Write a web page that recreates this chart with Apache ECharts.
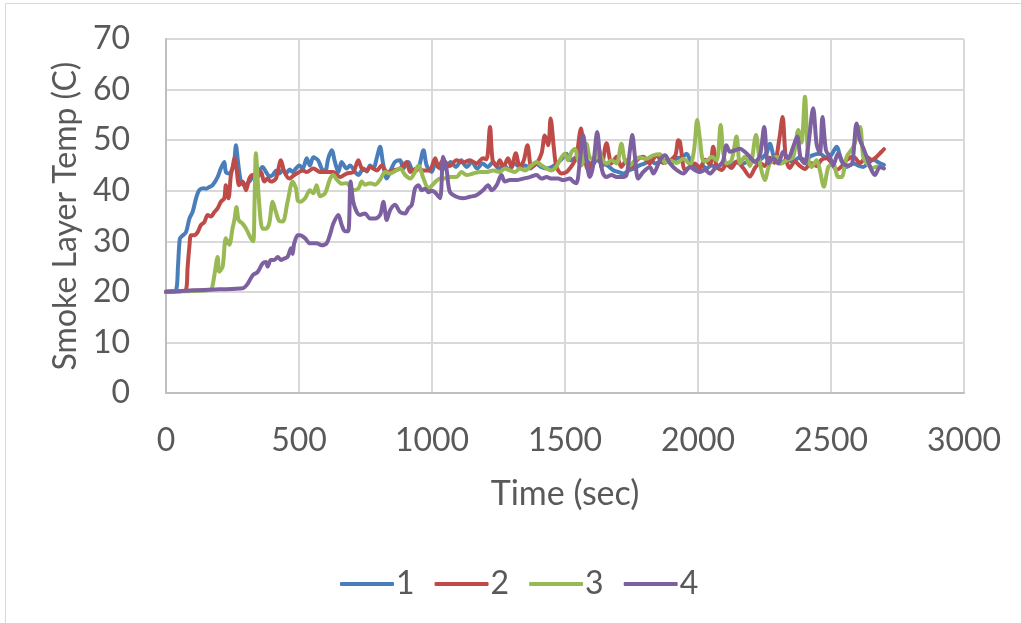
<!DOCTYPE html>
<html><head><meta charset="utf-8">
<script src="https://cdn.jsdelivr.net/npm/echarts@6/dist/echarts.min.js"></script>
<style>html,body{margin:0;padding:0;background:#fff}#c{width:1021px;height:623px}</style>
</head><body><div id="c"></div>
<script>
const seriesNames = ['1','2','3','4'];
const xTicks = [0,500,1000,1500,2000,2500,3000];
const yTicks = [0,10,20,30,40,50,60,70];
const s1 = [[0,20],[20,20.1],[38,20.3],[45,25],[52,30.5],[60,31],[75,31.8],[88,34.5],[100,35.8],[113,38.5],[125,40.1],[140,40.5],[150,40.4],[165,40.8],[175,41.1],[194,42.7],[206,44.4],[219,45.7],[225,43.7],[238,43.4],[250,44.4],[257,46],[263,49],[270,46],[276,43.5],[282,41.8],[294,41.1],[313,41.8],[331,43.1],[344,43.4],[363,44.7],[376,43.7],[390,42.8],[401,43.1],[415,44],[426,43.4],[440,44.2],[451,43.4],[465,44.2],[476,43.7],[490,44.5],[501,45],[514,44.4],[529,46.4],[541,45],[554,46.6],[572,46],[585,44.4],[598,43.7],[610,46.4],[623,48],[635,45.7],[648,43.7],[660,45.7],[679,44.4],[692,45],[711,43.7],[723,43.1],[742,44.4],[755,43.8],[767,45],[780,44.4],[792,46.4],[805,48.7],[815,45.7],[830,42.4],[848,44.4],[861,45.7],[880,46],[892,44.4],[911,45.7],[930,43.7],[949,44.4],[968,48],[980,45],[999,43.7],[1012,45.3],[1030,44.4],[1050,44.4],[1070,45.7],[1090,44.7],[1110,46],[1130,44.7],[1150,45.7],[1170,44.4],[1190,45.4],[1210,44.7],[1230,45.7],[1250,44.4],[1270,45],[1290,44.1],[1310,45.4],[1330,44.7],[1350,45],[1370,44.4],[1390,45.4],[1410,44.7],[1430,44.4],[1450,44.7],[1470,45.4],[1490,46.4],[1505,47.3],[1520,46],[1540,46.5],[1560,45.4],[1580,46],[1600,45],[1620,46],[1640,45.4],[1660,45],[1680,44.1],[1700,43.7],[1720,43.4],[1740,44],[1760,44.4],[1780,45],[1800,45.4],[1820,46],[1840,45.4],[1860,45.7],[1880,46],[1900,45.4],[1920,46.4],[1940,46.6],[1957,47.3],[1975,45.5],[1995,44.4],[2015,45],[2032,44.4],[2050,45],[2070,44.7],[2095,45.4],[2120,45],[2140,45.6],[2170,45.4],[2195,46],[2215,45.8],[2240,46.4],[2258,47.5],[2270,49.3],[2289,46.1],[2310,45.4],[2330,46],[2358,45.8],[2380,46.5],[2400,46.1],[2430,47],[2458,47.3],[2480,46.6],[2500,47],[2521,48.7],[2540,45.8],[2560,44.7],[2585,45.4],[2605,44.9],[2621,44.7],[2640,45.5],[2660,46.1],[2684,45.4],[2699,45.1]];
const s2 = [[0,20],[40,20.1],[75,20.4],[81,24.7],[88,29],[94,31.2],[106,31.2],[119,31.8],[131,33.2],[144,33.8],[157,35.2],[169,34.9],[182,35.8],[194,36.5],[206,37.8],[219,38.5],[225,41.1],[235,38.5],[244,43.1],[252,45],[257,46.4],[265,44.4],[275,41.1],[288,41.8],[301,40.1],[313,42.4],[326,43.1],[340,42.5],[357,43.7],[369,41.8],[382,42.4],[394,41.8],[413,42.4],[432,46],[445,43.7],[464,42.4],[482,43.1],[501,43.7],[514,44],[529,43.7],[554,44.4],[579,43.7],[604,43.7],[629,43.7],[654,42.7],[679,43.4],[704,43.7],[723,46],[736,44.4],[755,44],[767,44.7],[792,44],[811,45],[830,43.7],[855,44],[880,44.4],[905,45.7],[918,43.7],[943,44.4],[968,44],[990,44],[1012,46.4],[1024,44.7],[1042,46],[1067,44.9],[1092,46],[1117,45.6],[1142,46],[1167,45.4],[1192,46.4],[1205,46.2],[1218,52.6],[1228,46],[1243,44.9],[1255,46],[1268,44.7],[1286,46.4],[1299,44.7],[1315,47.4],[1330,44.7],[1345,46],[1359,49],[1374,44.7],[1393,45.4],[1412,47.4],[1424,50.9],[1437,49],[1446,54.3],[1458,48.5],[1468,44.7],[1487,43.4],[1506,43.7],[1518,44.4],[1531,45.4],[1543,46.7],[1560,52.3],[1571,47.6],[1587,44.1],[1606,46],[1625,48],[1637,44.7],[1656,49.4],[1675,45.4],[1694,46.7],[1712,44.7],[1731,46],[1750,44.7],[1769,46],[1794,46.7],[1819,45.4],[1844,47],[1870,45.5],[1895,46],[1915,47],[1926,50],[1932,49.7],[1951,44.1],[1970,44.7],[1988,45.4],[2007,44.4],[2026,46.1],[2045,45.2],[2057,48.7],[2070,44.8],[2089,44.1],[2107,45.2],[2126,44.5],[2145,45.8],[2170,44.5],[2195,42.8],[2214,44.5],[2233,45.5],[2251,44.9],[2270,46.5],[2287,45.5],[2305,50],[2318,54.6],[2330,46.5],[2345,44.5],[2364,45.8],[2383,44.9],[2402,44.3],[2424,45.5],[2446,44.9],[2464,46.1],[2483,46.4],[2502,45.5],[2521,44.1],[2540,44.8],[2559,46.1],[2584,46.7],[2609,45.5],[2634,46.7],[2652,46.1],[2671,46.7],[2690,47.7],[2699,48.2]];
const s3 = [[0,20],[60,20.1],[120,20.2],[169,20.5],[176,21.5],[182,23.3],[194,26.9],[200,24],[213,25],[225,30.6],[238,29.3],[250,32.5],[258,34.5],[265,36.8],[273,34.2],[288,33.5],[301,32.5],[319,30.6],[328,30],[333,38],[338,47.4],[343,44],[348,39.1],[363,32.5],[376,32.5],[388,33.5],[401,37.8],[413,35.8],[426,34],[439,33.9],[457,37.8],[476,41.8],[489,40.4],[495,38.1],[504,37.8],[523,38.5],[541,40.1],[554,39.5],[566,41.1],[579,38.9],[598,39.5],[617,42.4],[629,43.1],[642,42.2],[660,41.4],[679,41.5],[704,40.1],[723,40.4],[736,41.8],[748,41.2],[767,41.5],[786,41.2],[805,42.2],[824,43.7],[842,43.4],[855,43.7],[880,44.4],[899,43.1],[918,42.4],[936,43.7],[949,45],[968,42.4],[987,40.4],[999,41],[1018,42],[1030,42.4],[1042,42.4],[1067,42.7],[1092,42.7],[1111,43.7],[1130,43.1],[1155,43.4],[1180,43.7],[1205,43.7],[1230,44],[1255,43.7],[1274,44.4],[1293,44],[1312,43.7],[1330,44.4],[1350,44],[1368,44.7],[1393,45.7],[1412,45],[1431,44.4],[1449,44],[1462,44.4],[1474,45.4],[1487,46.6],[1499,47.3],[1512,46],[1525,47.7],[1537,48.3],[1550,46],[1562,45],[1581,49.3],[1593,46.6],[1612,46.3],[1625,48.7],[1637,46.6],[1656,45.4],[1675,46],[1694,45.4],[1712,49.3],[1725,46],[1744,45],[1763,46],[1781,46.6],[1806,46.3],[1831,47],[1857,47.2],[1876,45.5],[1895,46],[1920,45.5],[1945,46.3],[1970,45.2],[1985,48],[1997,54],[2007,50.3],[2020,45.9],[2032,45.9],[2051,46.7],[2070,46],[2085,53],[2095,47.4],[2107,45.4],[2126,46],[2145,50.7],[2158,45.4],[2176,46.7],[2195,44.9],[2218,51],[2233,45.4],[2251,42.1],[2270,45.4],[2295,46.7],[2314,45.4],[2333,46],[2358,46.7],[2377,52],[2389,49.5],[2402,58.6],[2414,46.7],[2427,44.7],[2446,46],[2458,44.1],[2473,40.8],[2490,44.7],[2508,45.4],[2527,42.7],[2540,42.7],[2559,46.7],[2584,48.7],[2609,52.6],[2621,46.7],[2634,45.5],[2655,44.5],[2675,44.8],[2690,44.6]];
const s4 = [[0,20],[50,20.1],[100,20.3],[200,20.5],[288,20.7],[307,21.6],[326,23.3],[344,23.9],[363,25.6],[376,25.9],[382,25],[394,26.3],[407,26.3],[420,26.9],[432,26.3],[445,26.6],[457,26.9],[470,28.6],[476,27.5],[482,29.6],[495,31.2],[504,31.2],[523,30.6],[541,29.6],[566,29.6],[585,29.2],[604,29.6],[617,31.4],[629,33.5],[648,35.2],[660,33.3],[673,32],[685,32],[694,41.8],[704,37.8],[717,35.8],[729,35.2],[748,35.5],[767,34.5],[786,34.5],[805,35.2],[817,37.8],[830,34.2],[842,36.1],[861,37.2],[880,35.8],[899,35.5],[911,36.5],[924,37.2],[936,40.4],[949,41.1],[961,40.1],[974,40.4],[987,39.7],[999,40],[1011,39.7],[1030,38.5],[1042,46.7],[1055,44.1],[1067,39.8],[1092,38.8],[1117,38.5],[1142,38.8],[1167,39.1],[1192,40.1],[1211,41.1],[1224,40.1],[1243,41.1],[1261,43.1],[1274,41.8],[1293,42.1],[1318,42.1],[1343,42.4],[1368,42.7],[1393,43.1],[1412,42.4],[1431,42.7],[1449,42.4],[1474,42.4],[1493,42.1],[1518,42.4],[1531,41.8],[1543,41.5],[1556,46],[1568,51],[1581,46],[1593,42.7],[1606,45],[1621,51.6],[1633,46],[1643,43.4],[1656,42.7],[1675,43.1],[1694,42.7],[1712,42.7],[1731,43.1],[1744,48],[1753,51],[1763,46.7],[1775,42.4],[1794,43.7],[1819,44.7],[1832,43.4],[1857,46],[1876,47],[1895,45.4],[1920,44.1],[1945,43.4],[1970,44.7],[1988,44.1],[2007,43.7],[2026,44.1],[2045,43.4],[2064,44.4],[2082,45],[2095,46],[2107,49],[2120,47.7],[2139,48],[2158,48.3],[2176,47.7],[2195,46.7],[2214,45.7],[2233,47],[2249,52.6],[2264,45.4],[2283,46.4],[2302,45.4],[2320,47.7],[2339,46.4],[2358,48.7],[2373,50.7],[2386,46.4],[2402,45.4],[2414,48.7],[2433,56.3],[2446,49.2],[2458,47.4],[2468,54.6],[2481,48],[2496,46.7],[2508,45],[2527,47.4],[2546,45.4],[2565,45],[2580,45.4],[2596,53.3],[2609,50],[2621,48.5],[2634,46.7],[2652,44.1],[2665,43.1],[2684,44.7],[2699,44.4]];
const colors = ['#4a7ebb','#be4b48','#98b954','#7d60a0'];
const allData = [s1,s2,s3,s4];
const FONT = 'Lato';
const chart = echarts.init(document.getElementById('c'));
chart.setOption({
  animation:false,
  backgroundColor:'#fff',
  graphic:[{type:'rect',shape:{x:5.5,y:3.5,width:1100,height:800},style:{fill:'none',stroke:'#d9d9d9',lineWidth:1}}],
  grid:{left:166,right:57,top:39,bottom:230},
  legend:{left:335,top:563,itemWidth:54,itemHeight:4,itemGap:20,icon:'roundRect',
    textStyle:{fontFamily:FONT,fontSize:32,color:'#595959',padding:[0,0,0,-3]},data:seriesNames},
  xAxis:{type:'value',min:xTicks[0],max:xTicks[xTicks.length-1],interval:500,
    name:'Time (sec)',nameLocation:'middle',nameGap:84,
    nameTextStyle:{fontFamily:FONT,fontSize:34,color:'#595959'},
    axisLine:{show:true,lineStyle:{color:'#bfbfbf',width:2}},axisTick:{show:false},
    axisLabel:{fontFamily:FONT,fontSize:32,color:'#595959',margin:32,formatter:v=>String(v)},
    splitLine:{show:true,lineStyle:{color:'#d9d9d9',width:2}}},
  yAxis:{type:'value',min:yTicks[0],max:yTicks[yTicks.length-1],interval:10,
    name:'Smoke Layer Temp (C)',nameLocation:'middle',nameGap:84,
    nameTextStyle:{fontFamily:FONT,fontSize:32,color:'#595959'},
    axisLine:{show:true,lineStyle:{color:'#bfbfbf',width:2}},axisTick:{show:false},
    axisLabel:{fontFamily:FONT,fontSize:32,color:'#595959',margin:36,formatter:v=>String(v)},
    splitLine:{show:true,lineStyle:{color:'#d9d9d9',width:2}}},
  series: allData.map((d,i)=>({name:seriesNames[i],type:'line',data:d,showSymbol:false,smooth:0.3,
    lineStyle:{color:colors[i],width:4,cap:'round',join:'round'},itemStyle:{color:colors[i]}}))
});
</script></body></html>
